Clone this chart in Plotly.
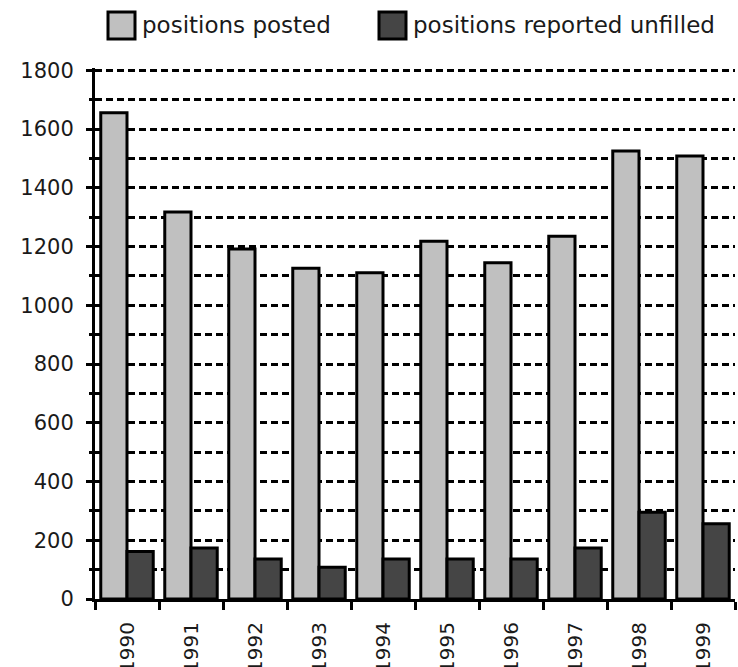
import plotly.graph_objects as go

years = ["1990", "1991", "1992", "1993", "1994", "1995", "1996", "1997", "1998", "1999"]
posted = [1656, 1318, 1192, 1126, 1111, 1218, 1145, 1235, 1525, 1508]
unfilled = [162, 174, 136, 108, 136, 136, 136, 174, 295, 256]
series_names = ["positions posted", "positions reported unfilled"]
series_colors = ["#c0c0c0", "#454545"]
y_ticks = [0, 200, 400, 600, 800, 1000, 1200, 1400, 1600, 1800]

FONT = "DejaVu Sans"
T, B = 68, 68
PH = 667 - T - B

fig = go.Figure()
for name, vals, col in zip(series_names, [posted, unfilled], series_colors):
    fig.add_trace(go.Bar(
        x=years, y=vals, name=name,
        marker=dict(color=col, line=dict(color="black", width=3)),
        showlegend=False,
    ))

fig.update_layout(
    width=738, height=667,
    margin=dict(l=95, r=3, t=T, b=B, autoexpand=False),
    paper_bgcolor="white", plot_bgcolor="white",
    barmode="group", bargap=0.18, bargroupgap=0,
    font=dict(family=FONT, size=19, color="#1a1a1a"),
    xaxis=dict(
        type="category", range=[-0.5, 9.5], automargin=False,
        showline=True, linecolor="black", linewidth=3,
        ticks="outside", tickson="boundaries", ticklen=8, tickwidth=3, tickcolor="black",
        tickangle=-90, showgrid=False,
        tickfont=dict(family=FONT, size=20, color="#1a1a1a"),
        ticklabelstandoff=12,
    ),
    yaxis=dict(
        range=[0, 1808], tickvals=y_ticks, automargin=False,
        showline=True, linecolor="black", linewidth=3,
        ticks="outside", ticklen=6, tickwidth=3, tickcolor="black",
        showgrid=True, gridcolor="black", gridwidth=3, griddash="7px,4px",
        zeroline=False,
        tickfont=dict(family=FONT, size=21, color="#1a1a1a"),
        ticklabelstandoff=8,
        minor=dict(dtick=100, ticks="outside", ticklen=3, tickwidth=3, tickcolor="black",
                   showgrid=True, gridcolor="black", gridwidth=3, griddash="7px,4px"),
    ),
)

# custom legend (large swatches)
legend_x = [108, 379]
for name, col, lx in zip(series_names, series_colors, legend_x):
    fig.add_shape(type="rect", xref="paper", yref="paper",
                  x0=(lx - 95) / 640, x1=(lx + 27 - 95) / 640,
                  y0=(667 - B - 39) / PH, y1=(667 - B - 12) / PH,
                  fillcolor=col, line=dict(color="black", width=3))
    fig.add_annotation(xref="paper", yref="paper", x=(lx + 32 - 95) / 640,
                       y=(667 - B - 25) / PH, xanchor="left", yanchor="middle",
                       text=name, showarrow=False,
                       font=dict(family=FONT, size=23, color="#1a1a1a"))

fig.write_html("out.html", config={"displayModeBar": False},
               post_script="document.body.style.margin='0px';")
